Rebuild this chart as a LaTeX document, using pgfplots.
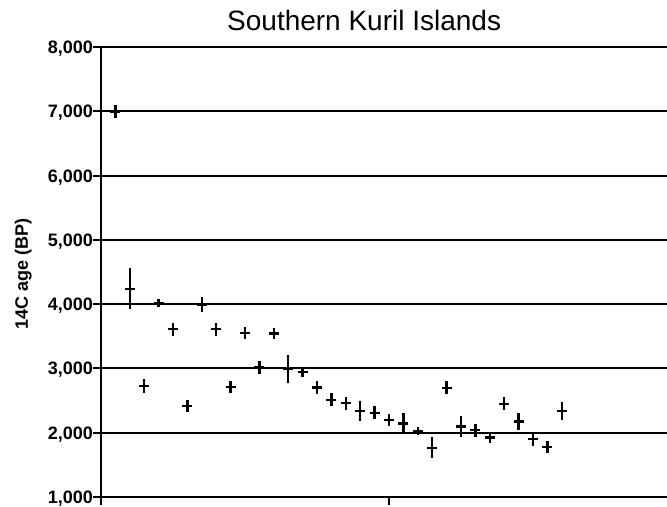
\documentclass[border=0pt]{standalone}
\usepackage{pgfplots}
\pgfplotsset{compat=1.18}
\usepackage{fontspec}
\setmainfont{Liberation Sans}
\begin{document}
\begin{tikzpicture}
\begin{axis}[
  name=ax,
  scale only axis,
  width=566pt, height=450pt,
  xmin=0, xmax=39.3,
  ymin=1000, ymax=8000,
  axis x line*=bottom, axis y line*=left,
  axis line style={-, black, line width=2pt},
  xtick={0,20,40}, xticklabels={},
  ytick={1000,2000,3000,4000,5000,6000,7000,8000},
  yticklabels={{1,000},{2,000},{3,000},{4,000},{5,000},{6,000},{7,000},{8,000}},
  tick align=outside, major tick length=8pt,
  tick style={black, line width=2pt},
  yticklabel style={font=\bfseries\fontsize{18}{18}\selectfont, inner sep=0pt, anchor=base east, yshift=-6.5pt},
  ymajorgrids, grid style={black, line width=2pt},
  title={Southern Kuril Islands},
  title style={font=\fontsize{28}{28}\selectfont, anchor=base west, at={(axis description cs:0.2226,1)}, yshift=10pt, inner sep=0pt},
  ylabel={14C age (BP)},
  ylabel style={font=\bfseries\fontsize{18}{18}\selectfont, at={(axis description cs:-0.129,0.495)}, anchor=base, inner sep=0pt},
  clip=false,
]
\addplot[black, only marks, mark=-, mark size=5pt, mark options={line width=2.4pt},
  error bars/.cd, y dir=both, y explicit, error mark=none,
  error bar style={line width=2.4pt}]
  table[x=k, y=v, y error=e] {
k v e
1 6990 100
2 4240 320
3 2725 105
4 4015 60
5 3612 100
6 2415 100
7 3990 120
8 3612 100
9 2710 100
10 3550 100
11 3020 100
12 3545 80
13 2990 220
14 2940 80
15 2705 100
16 2510 100
17 2460 100
18 2340 160
19 2310 100
20 2200 90
21 2145 155
22 2025 60
23 1765 165
24 2700 100
25 2095 160
26 2040 100
27 1925 90
28 2450 100
29 2175 135
30 1900 100
31 1780 90
32 2340 140
};
\end{axis}
\pgfresetboundingbox
\path ([xshift=-101pt,yshift=-10pt]ax.south west) rectangle ([yshift=47pt]ax.north east);
\end{tikzpicture}
\end{document}
